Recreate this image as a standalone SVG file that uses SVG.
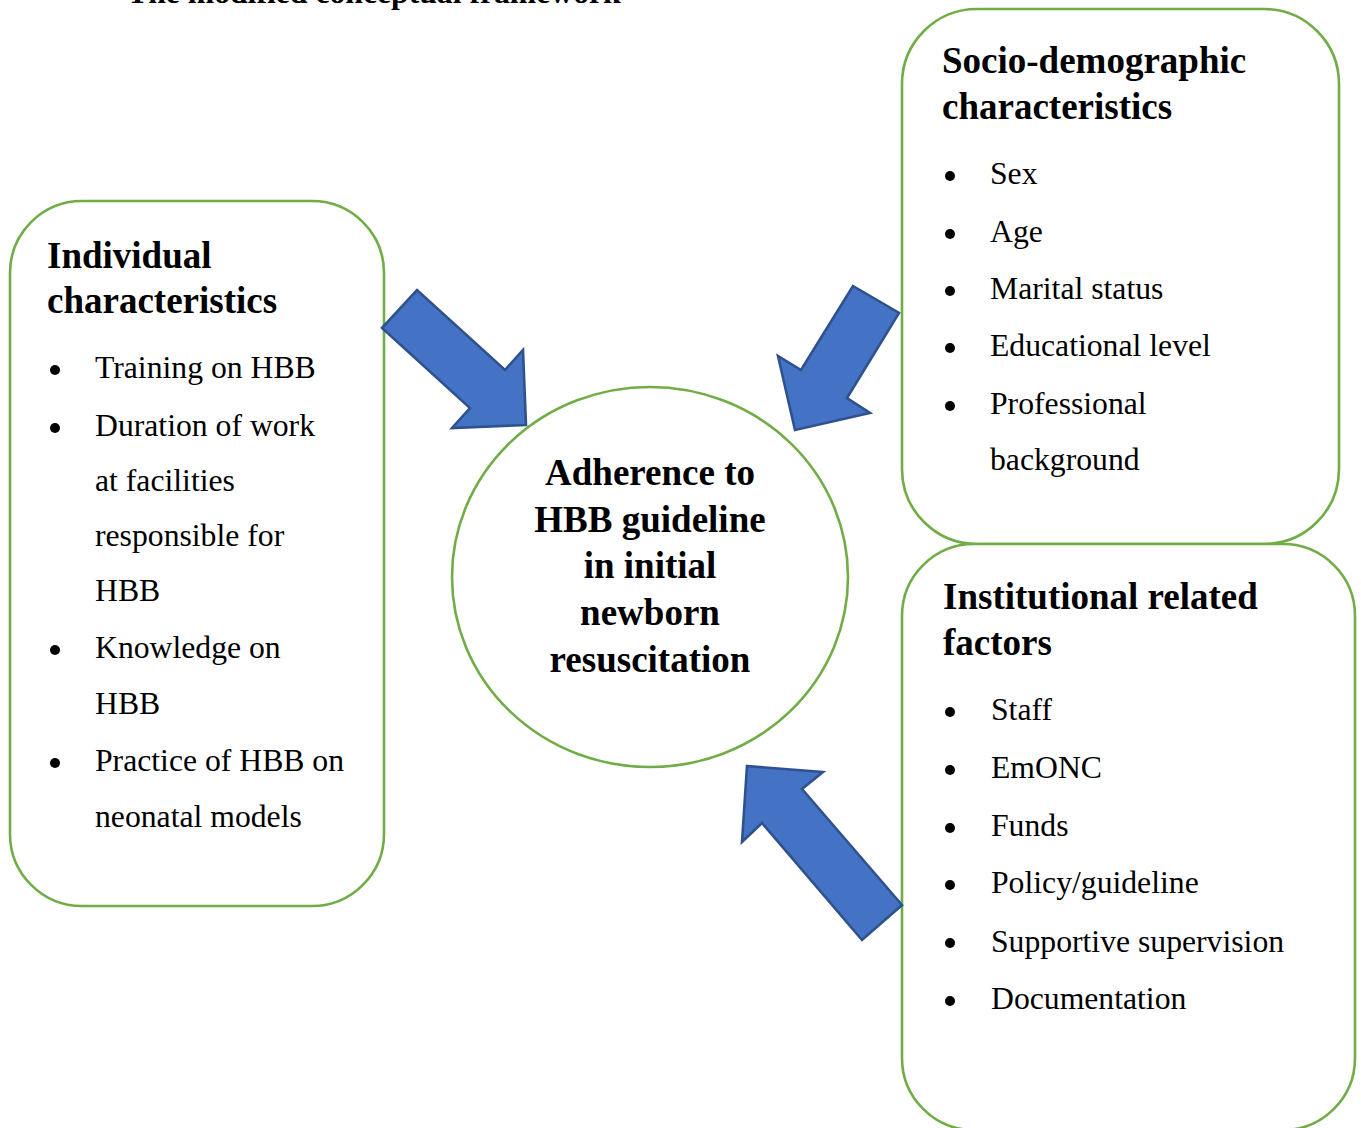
<svg xmlns="http://www.w3.org/2000/svg" width="1361" height="1128" viewBox="0 0 1361 1128">
<defs>
<style>
.box{fill:#fff;stroke:#70AD47;stroke-width:2.6}
.arrow{fill:#4472C4;stroke:#2F528F;stroke-width:2.6;stroke-linejoin:miter}
.h{font-family:"Liberation Serif","Times New Roman",serif;font-weight:bold;font-size:37px;fill:#000}
.t{font-family:"Liberation Serif","Times New Roman",serif;font-size:31.7px;fill:#000}
.title{font-family:"Liberation Serif","Times New Roman",serif;font-weight:bold;font-size:31.7px;fill:#000}
.b{fill:#000}
</style>
</defs>
<rect width="1361" height="1128" fill="#fff"/>
<text class="title" x="127" y="3">The modified conceptual framework</text>

<g id="individual">
<rect class="box" x="10" y="201" width="374" height="705" rx="72"/>
<text class="h" x="47" y="268">Individual</text>
<text class="h" x="47" y="313">characteristics</text>
<g class="b">
<circle cx="55" cy="370" r="5"/>
<circle cx="55" cy="428" r="5"/>
<circle cx="55" cy="650" r="5"/>
<circle cx="55" cy="763" r="5"/>
</g>
<text class="t" x="95" y="377.5">Training on HBB</text>
<text class="t" x="95" y="435.5">Duration of work</text>
<text class="t" x="95" y="490.5">at facilities</text>
<text class="t" x="95" y="545.5">responsible for</text>
<text class="t" x="95" y="600.5">HBB</text>
<text class="t" x="95" y="657.5">Knowledge on</text>
<text class="t" x="95" y="713.5">HBB</text>
<text class="t" x="95" y="770.5">Practice of HBB on</text>
<text class="t" x="95" y="826.5">neonatal models</text>
</g>

<g id="socio">
<rect class="box" x="902" y="9" width="437" height="535" rx="75"/>
<text class="h" x="942" y="73">Socio-demographic</text>
<text class="h" x="942" y="119">characteristics</text>
<g class="b">
<circle cx="950" cy="176" r="5"/>
<circle cx="950" cy="234" r="5"/>
<circle cx="950" cy="291" r="5"/>
<circle cx="950" cy="348" r="5"/>
<circle cx="950" cy="406" r="5"/>
</g>
<text class="t" x="990" y="183.5">Sex</text>
<text class="t" x="990" y="241.5">Age</text>
<text class="t" x="990" y="298.5">Marital status</text>
<text class="t" x="990" y="355.5">Educational level</text>
<text class="t" x="990" y="413.5">Professional</text>
<text class="t" x="990" y="469.5">background</text>
</g>

<g id="institutional">
<rect class="box" x="902" y="544" width="453" height="586" rx="72"/>
<text class="h" x="943" y="609">Institutional related</text>
<text class="h" x="943" y="655">factors</text>
<g class="b">
<circle cx="950" cy="712" r="5"/>
<circle cx="950" cy="770" r="5"/>
<circle cx="950" cy="828" r="5"/>
<circle cx="950" cy="885" r="5"/>
<circle cx="950" cy="943" r="5"/>
<circle cx="950" cy="1001" r="5"/>
</g>
<text class="t" x="991" y="720">Staff</text>
<text class="t" x="991" y="778">EmONC</text>
<text class="t" x="991" y="836">Funds</text>
<text class="t" x="991" y="893">Policy/guideline</text>
<text class="t" x="991" y="951.5">Supportive supervision</text>
<text class="t" x="991" y="1009">Documentation</text>
</g>

<g id="adherence">
<ellipse class="box" cx="650" cy="577" rx="198" ry="190"/>
<g class="h" text-anchor="middle">
<text x="650" y="485">Adherence to</text>
<text x="650" y="531.7">HBB guideline</text>
<text x="650" y="578.3">in initial</text>
<text x="650" y="625">newborn</text>
<text x="650" y="671.7">resuscitation</text>
</g>
</g>

<g id="connectors">
<polygon class="arrow" points="382,328 417,290 505,370 523,350 526,425 452,428 470,408"/>
<polygon class="arrow" points="853,286 899,313 847,398 870,413 795,430 778,356 801,370"/>
<polygon class="arrow" points="747,766 823,772 802,789 902,905 862,940 762,823 742,842"/>
</g>
</svg>
